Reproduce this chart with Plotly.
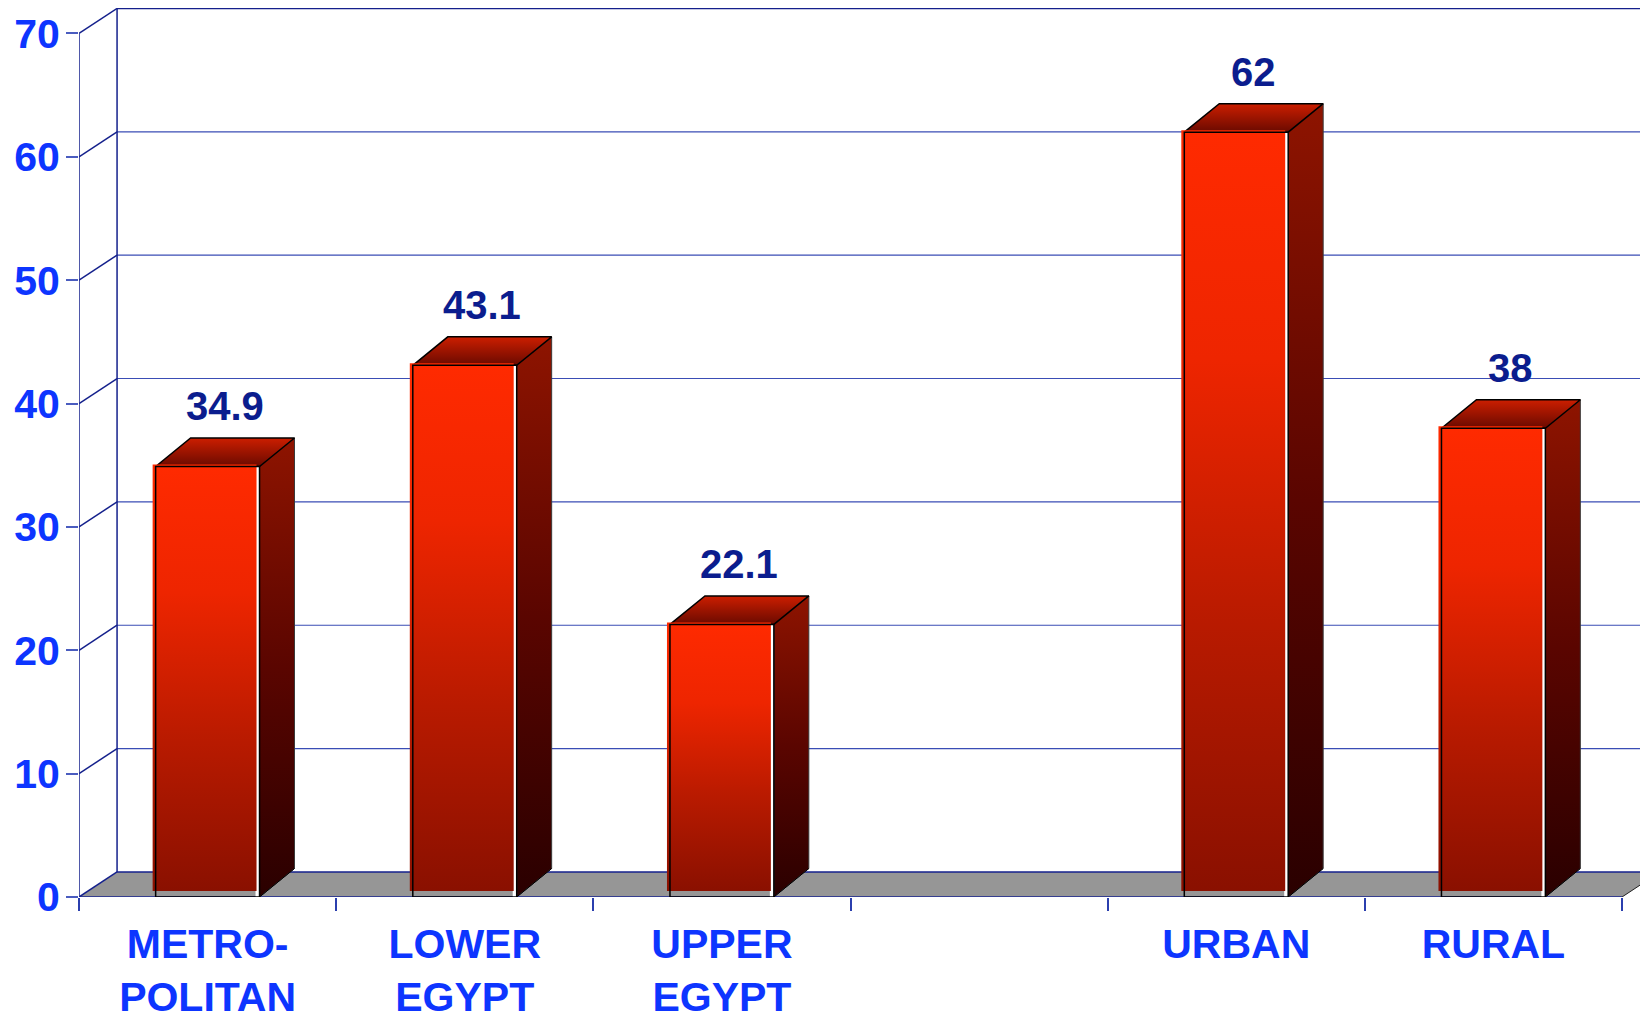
import plotly.graph_objects as go

# data (4th slot is an empty spacer between the two groups)
categories = ["METRO-<br>POLITAN", "LOWER<br>EGYPT", "UPPER<br>EGYPT", "", "URBAN", "RURAL"]
values = [34.9, 43.1, 22.1, None, 62, 38]
y_ticks = [0, 10, 20, 30, 40, 50, 60, 70]

# fake 3D geometry, everything in axis units
BAR_W = 0.404
BAR_DX, BAR_DY = 0.136, 2.31
WALL_DX, WALL_DY = 0.148, 2.03
X_LO, X_HI = 0.5, len(categories) + 0.5
Y_TOP = y_ticks[-1]
PX_X, PX_Y = 1 / 257.2, 1 / 12.34   # one pixel in axis units

FONT = "Arial, Liberation Sans, Helvetica, sans-serif"
TICK_BLUE = "#0d35ff"
NAVY = "#14208c"
GRID = "#3a4db5"

fig = go.Figure()


def poly(xs, ys, **kw):
    fig.add_trace(go.Scatter(x=xs, y=ys, mode="lines", hoverinfo="skip",
                             showlegend=False, cliponaxis=False, **kw))


# floor
poly([X_LO, X_HI, X_HI + WALL_DX, X_LO + WALL_DX, X_LO],
     [0, 0, WALL_DY, WALL_DY, 0],
     fill="toself", fillcolor="#969696", line=dict(width=0))

# back wall gridlines
gx, gy = [], []
for t in y_ticks[1:]:
    gx += [X_LO + WALL_DX, X_HI + WALL_DX, None]
    gy += [t + WALL_DY, t + WALL_DY, None]
poly(gx, gy, line=dict(color=GRID, width=1.2))

# side wall diagonals, wall edges, floor edges
ex, ey = [], []
for t in y_ticks:
    ex += [X_LO, X_LO + WALL_DX, None]
    ey += [t, t + WALL_DY, None]
ex += [X_LO, X_LO, None, X_LO + WALL_DX, X_LO + WALL_DX, None,
       X_LO + WALL_DX, X_HI + WALL_DX, None, X_LO, X_HI, None,
       X_LO + WALL_DX, X_HI + WALL_DX, None]
ey += [0, Y_TOP, None, WALL_DY, Y_TOP + WALL_DY, None,
       Y_TOP + WALL_DY, Y_TOP + WALL_DY, None, 0, 0, None,
       WALL_DY, WALL_DY, None]
poly(ex, ey, line=dict(color=NAVY, width=1.5))
poly([X_HI, X_HI + WALL_DX], [0, WALL_DY], line=dict(color="#222222", width=1))

front_scale = [[0, "#8a1000"], [0.35, "#b81a00"], [0.7, "#ee2500"], [1, "#ff2a00"]]
side_scale = [[0, "#2a0000"], [0.5, "#5a0500"], [1, "#8e1400"]]
top_scale = [[0, "#6a0a00"], [1, "#cc1e00"]]

for i, v in enumerate(values):
    if v is None:
        continue
    xc = i + 1
    x0, x1 = xc - BAR_W / 2, xc + BAR_W / 2
    # side face
    poly([x1, x1 + BAR_DX, x1 + BAR_DX, x1, x1],
         [0, BAR_DY, v + BAR_DY, v, 0],
         fill="toself", fillgradient=dict(type="vertical", colorscale=side_scale),
         line=dict(color="#3a3a3a", width=1))
    # top face
    poly([x0, x1, x1 + BAR_DX, x0 + BAR_DX, x0],
         [v, v, v + BAR_DY, v + BAR_DY, v],
         fill="toself", fillgradient=dict(type="vertical", colorscale=top_scale),
         line=dict(color="black", width=1.5))
    # white gap on the right edge of the front
    poly([x1 - 4 * PX_X, x1, x1, x1 - 4 * PX_X, x1 - 4 * PX_X],
         [0, 0, v, v, 0], fill="toself", fillcolor="white", line=dict(width=0))
    # front face, slightly offset like the original rendering
    fx0, fx1 = x0 - 3 * PX_X, x1 - 3 * PX_X
    fy0, fy1 = 6 * PX_Y, v + 2 * PX_Y
    poly([fx0, fx1, fx1, fx0, fx0], [fy0, fy0, fy1, fy1, fy0],
         fill="toself", fillgradient=dict(type="vertical", colorscale=front_scale),
         line=dict(width=0))
    # front outline
    poly([x0, x1, x1, x0, x0], [0, 0, v, v, 0], line=dict(color="black", width=1.5))
    poly([x1, x1 + BAR_DX], [0, BAR_DY], line=dict(color="black", width=1))

    fig.add_annotation(x=xc + BAR_DX / 2, y=v + BAR_DY, yanchor="bottom", yshift=8,
                       text=f"{v:g}", showarrow=False,
                       font=dict(family=FONT, size=40, color="#0b1d8e", weight="bold"))

# the page body adds an 8px margin, so the figure is 8px smaller and shifted
fig.update_xaxes(range=[X_LO, X_HI + 26 * PX_X], showgrid=False, zeroline=False,
                 showline=False, automargin=False,
                 tickvals=[i + 1 for i, c in enumerate(categories) if c],
                 ticktext=[c for c in categories if c], ticks="",
                 ticklabelstandoff=19,
                 tickfont=dict(family=FONT, size=41, color=TICK_BLUE, weight="bold"),
                 minor=dict(ticks="outside", ticklen=13, tick0=0.5, dtick=1,
                            tickcolor="#2b3fae", tickwidth=1.5, showgrid=False))
fig.update_yaxes(range=[0, Y_TOP + 25.5 * PX_Y], showgrid=False, zeroline=False,
                 showline=False, automargin=False, tickvals=y_ticks,
                 ticks="outside", ticklen=12, tickcolor="#4a5cbf", tickwidth=1.5,
                 ticklabelstandoff=-2,
                 tickfont=dict(family=FONT, size=41, color=TICK_BLUE, weight="bold"))

fig.update_layout(width=1640, height=1007, margin=dict(l=71, r=0, t=0, b=118),
                  plot_bgcolor="white", paper_bgcolor="white", showlegend=False)

fig.write_html("out.html")
